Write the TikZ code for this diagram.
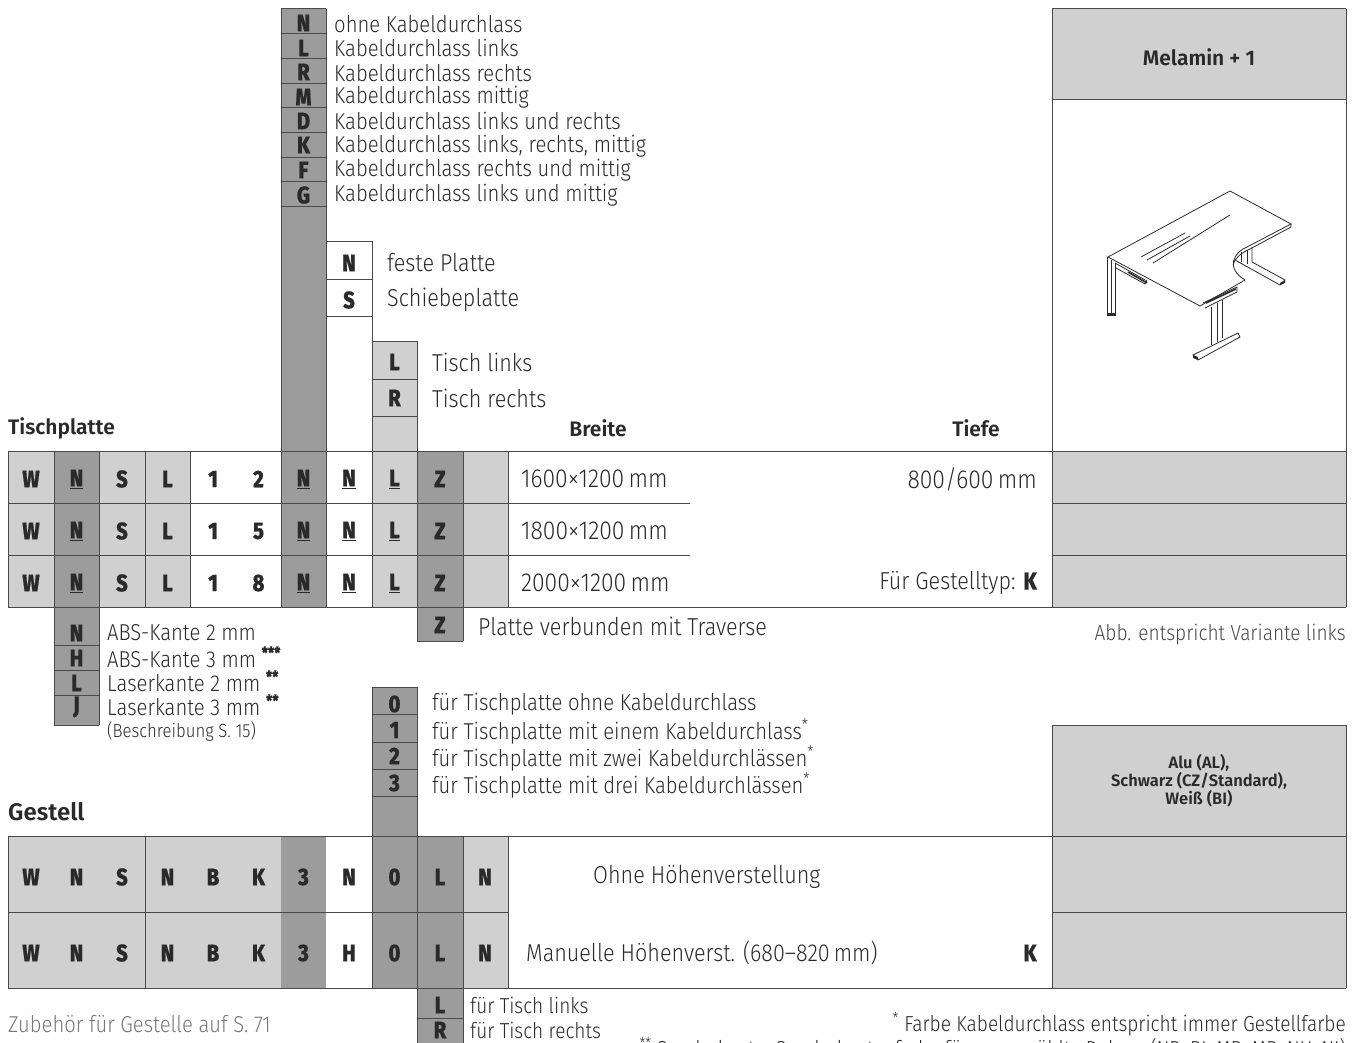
\documentclass[tikz,border=0pt]{standalone}
\usepackage{fontspec}
\setmainfont[FakeStretch=0.88]{Fira Sans Light}
\newfontfamily\codefont[FakeStretch=0.84, FakeBold=0.6]{Fira Sans ExtraBold}
\newfontfamily\headfont{Fira Sans SemiBold}
\definecolor{lightcell}{HTML}{D0D0D0}
\definecolor{darkcell}{HTML}{9C9C9C}
\definecolor{rulecolor}{HTML}{4A4A4A}
\definecolor{textcolor}{HTML}{2A2A2A}
\definecolor{greytext}{HTML}{777777}
\tikzset{
    cell/.style={minimum width=45.5pt, inner sep=0pt, font=\codefont\fontsize{24}{24}\selectfont, text=textcolor},
    line/.style={anchor=west, inner sep=0pt, font=\fontsize{23}{23}\selectfont, text=textcolor},
    bigline/.style={anchor=west, inner sep=0pt, font=\fontsize{24.5}{24.5}\selectfont, text=textcolor},
    sizeline/.style={anchor=west, inner sep=0pt, font=\fontsize{26}{26}\selectfont, text=textcolor},
    note/.style={anchor=west, inner sep=0pt, font=\fontsize{21.7}{21.7}\selectfont, text=textcolor},
    head/.style={anchor=west, inner sep=0pt, font=\headfont\fontsize{21}{21}\selectfont, text=textcolor},
    rule/.style={rulecolor, line width=1pt},
    desk/.style={textcolor, line width=0.8pt}
}
\begin{document}
\begin{tikzpicture}[x=1pt, y=-1pt]
    \useasboundingbox (0, 0) rectangle (1357, 1043);

    % Fill the shaded blocks of the upper table
    \fill[lightcell] (8, 451) rectangle (54, 607);
    \fill[darkcell] (54, 451) rectangle (99, 725);
    \fill[lightcell] (99, 451) rectangle (190, 607);
    \fill[darkcell] (281, 9) rectangle (326, 607);
    \fill[lightcell] (372, 341) rectangle (417, 607);
    \fill[darkcell] (417, 451) rectangle (463, 641);
    \fill[lightcell] (463, 451) rectangle (508, 607);
    \fill[lightcell] (1052, 9) rectangle (1346, 100);
    \fill[lightcell] (1052, 451) rectangle (1346, 607);

    % Fill the shaded blocks of the lower table
    \fill[lightcell] (8, 836) rectangle (281, 988);
    \fill[darkcell] (281, 836) rectangle (326, 988);
    \fill[darkcell] (372, 687) rectangle (417, 988);
    \fill[darkcell] (417, 836) rectangle (463, 1043);
    \fill[lightcell] (463, 836) rectangle (508, 988);
    \fill[lightcell] (1052, 725) rectangle (1346, 988);

    % Draw the horizontal rules of the upper table
    \draw[rule] (8, 451) -- (1346, 451);
    \draw[rule] (8, 503) -- (690, 503);
    \draw[rule] (8, 555) -- (690, 555);
    \draw[rule] (8, 607) -- (1346, 607);
    \draw[rule] (1052, 503) -- (1346, 503);
    \draw[rule] (1052, 555) -- (1346, 555);

    % Draw the vertical rules of the upper table
    \draw[rule] (8, 451) -- (8, 607);
    \draw[rule] (54, 451) -- (54, 725);
    \draw[rule] (99, 451) -- (99, 725);
    \draw[rule] (145, 451) -- (145, 607);
    \draw[rule] (190, 451) -- (190, 607);
    \draw[rule] (281, 9) -- (281, 607);
    \draw[rule] (326, 9) -- (326, 607);
    \draw[rule] (372, 241) -- (372, 607);
    \draw[rule] (417, 341) -- (417, 641);
    \draw[rule] (463, 451) -- (463, 641);
    \draw[rule] (508, 451) -- (508, 607);
    \draw[rule] (1052, 9) -- (1052, 607);
    \draw[rule] (1346, 9) -- (1346, 607);

    % Draw the ticks of the option columns
    \draw[rule] (281, 9) -- (326, 9);
    \draw[rule] (281, 34) -- (326, 34);
    \draw[rule] (281, 59) -- (326, 59);
    \draw[rule] (281, 84) -- (326, 84);
    \draw[rule] (281, 108) -- (326, 108);
    \draw[rule] (281, 133) -- (326, 133);
    \draw[rule] (281, 158) -- (326, 158);
    \draw[rule] (281, 182) -- (326, 182);
    \draw[rule] (281, 207) -- (326, 207);
    \draw[rule] (326, 241) -- (372, 241);
    \draw[rule] (326, 279) -- (372, 279);
    \draw[rule] (326, 316) -- (372, 316);
    \draw[rule] (372, 341) -- (417, 341);
    \draw[rule] (372, 379) -- (417, 379);
    \draw[rule] (372, 416) -- (417, 416);
    \draw[rule] (54, 645) -- (99, 645);
    \draw[rule] (54, 670) -- (99, 670);
    \draw[rule] (54, 695) -- (99, 695);
    \draw[rule] (54, 725) -- (99, 725);
    \draw[rule] (417, 641) -- (463, 641);
    \draw[rule] (1052, 9) -- (1346, 9);
    \draw[rule] (1052, 100) -- (1346, 100);

    % Draw the rules of the lower table
    \draw[rule] (8, 836) -- (1346, 836);
    \draw[rule] (8, 912) -- (508, 912);
    \draw[rule] (1052, 912) -- (1346, 912);
    \draw[rule] (8, 988) -- (1346, 988);
    \draw[rule] (8, 836) -- (8, 988);
    \draw[rule] (145, 836) -- (145, 988);
    \draw[rule] (372, 687) -- (372, 988);
    \draw[rule] (417, 687) -- (417, 1043);
    \draw[rule] (463, 836) -- (463, 1043);
    \draw[rule] (508, 836) -- (508, 988);
    \draw[rule] (1052, 725) -- (1052, 988);
    \draw[rule] (1346, 725) -- (1346, 988);
    \draw[rule] (372, 687) -- (417, 687);
    \draw[rule] (372, 714) -- (417, 714);
    \draw[rule] (372, 742) -- (417, 742);
    \draw[rule] (372, 769) -- (417, 769);
    \draw[rule] (372, 796) -- (417, 796);
    \draw[rule] (417, 1018) -- (463, 1018);
    \draw[rule] (1052, 725) -- (1346, 725);

    % Option column above the upper table
    \node[cell] (cableN) at (303.5, 23) {N};
    \node[cell] (cableL) at (303.5, 48) {L};
    \node[cell] (cableR) at (303.5, 72) {R};
    \node[cell] (cableM) at (303.5, 97) {M};
    \node[cell] (cableD) at (303.5, 121) {D};
    \node[cell] (cableK) at (303.5, 145) {K};
    \node[cell] (cableF) at (303.5, 170) {F};
    \node[cell] (cableG) at (303.5, 195) {G};
    \node[line] (cableNtext) at (334, 24) {ohne Kabeldurchlass};
    \node[line] (cableLtext) at (334, 48) {Kabeldurchlass links};
    \node[line] (cableRtext) at (334, 73) {Kabeldurchlass rechts};
    \node[line] (cableMtext) at (334, 97) {Kabeldurchlass mittig};
    \node[line] (cableDtext) at (334, 121) {Kabeldurchlass links und rechts};
    \node[line] (cableKtext) at (334, 146) {Kabeldurchlass links, rechts, mittig};
    \node[line] (cableFtext) at (334, 170) {Kabeldurchlass rechts und mittig};
    \node[line] (cableGtext) at (334, 195) {Kabeldurchlass links und mittig};

    \node[cell] (plateN) at (349, 263) {N};
    \node[cell] (plateS) at (349, 300) {S};
    \node[bigline] (plateNtext) at (387, 263) {feste Platte};
    \node[bigline] (plateStext) at (387, 300) {Schiebeplatte};

    \node[cell] (sideL) at (394.5, 362) {L};
    \node[cell] (sideR) at (394.5, 398) {R};
    \node[bigline] (sideLtext) at (432, 362) {Tisch links};
    \node[bigline] (sideRtext) at (432, 398) {Tisch rechts};

    % Headings of the upper table
    \node[head] (tischplatte) at (8, 428) {Tischplatte};
    \node[head, anchor=center] (breite) at (598, 428) {Breite};
    \node[head, anchor=center] (tiefe) at (976, 428) {Tiefe};
    \node[head, anchor=center] (melamin) at (1199, 57) {Melamin + 1};

    % First row of the upper table
    \node[cell] (a1) at (31, 479) {W};
    \node[cell] (a2) at (76.5, 479) {\underline{N}};
    \node[cell] (a3) at (122, 479) {S};
    \node[cell] (a4) at (167.5, 479) {L};
    \node[cell] (a5) at (213, 479) {1};
    \node[cell] (a6) at (258.5, 479) {2};
    \node[cell] (a7) at (303.5, 479) {\underline{N}};
    \node[cell] (a8) at (349, 479) {\underline{N}};
    \node[cell] (a9) at (394.5, 479) {\underline{L}};
    \node[cell] (a10) at (440, 479) {Z};
    \node[sizeline] (a11) at (521, 479) {1600×1200\,mm};
    \node[sizeline, anchor=east] (a12) at (1037, 479) {800/600\,mm};

    % Second row of the upper table
    \node[cell] (b1) at (31, 531) {W};
    \node[cell] (b2) at (76.5, 531) {\underline{N}};
    \node[cell] (b3) at (122, 531) {S};
    \node[cell] (b4) at (167.5, 531) {L};
    \node[cell] (b5) at (213, 531) {1};
    \node[cell] (b6) at (258.5, 531) {5};
    \node[cell] (b7) at (303.5, 531) {\underline{N}};
    \node[cell] (b8) at (349, 531) {\underline{N}};
    \node[cell] (b9) at (394.5, 531) {\underline{L}};
    \node[cell] (b10) at (440, 531) {Z};
    \node[sizeline] (b11) at (521, 531) {1800×1200\,mm};

    % Third row of the upper table
    \node[cell] (c1) at (31, 583) {W};
    \node[cell] (c2) at (76.5, 583) {\underline{N}};
    \node[cell] (c3) at (122, 583) {S};
    \node[cell] (c4) at (167.5, 583) {L};
    \node[cell] (c5) at (213, 583) {1};
    \node[cell] (c6) at (258.5, 583) {8};
    \node[cell] (c7) at (303.5, 583) {\underline{N}};
    \node[cell] (c8) at (349, 583) {\underline{N}};
    \node[cell] (c9) at (394.5, 583) {\underline{L}};
    \node[cell] (c10) at (440, 583) {Z};
    \node[sizeline] (c11) at (521, 583) {2000×1200\,mm};
    \node[bigline, anchor=east] (c12) at (1037, 583) {Für Gestelltyp: {\codefont K}};

    % Options below the upper table
    \node[cell] (edgeN) at (76.5, 633) {N};
    \node[cell] (edgeH) at (76.5, 658) {H};
    \node[cell] (edgeL) at (76.5, 683) {L};
    \node[cell] (edgeJ) at (76.5, 707) {J};
    \node[line] (edgeNtext) at (107, 633) {ABS-Kante 2 mm};
    \node[line] (edgeHtext) at (107, 657) {ABS-Kante 3 mm \textsuperscript{\codefont ***}};
    \node[line] (edgeLtext) at (107, 681) {Laserkante 2 mm \textsuperscript{\codefont **}};
    \node[line] (edgeJtext) at (107, 705) {Laserkante 3 mm \textsuperscript{\codefont **}};
    \node[note, font=\fontsize{19}{19}\selectfont] (edgeNote) at (107, 731) {(Beschreibung S. 15)};

    \node[cell] (traverseZ) at (440, 625) {Z};
    \node[bigline] (traverseText) at (478, 626) {Platte verbunden mit Traverse};
    \node[note, anchor=east, text=rulecolor] (figNote) at (1346, 635) {Abb. entspricht Variante links};

    % Options above the lower table
    \node[cell] (mountZero) at (394.5, 704) {0};
    \node[cell] (mountOne) at (394.5, 730) {1};
    \node[cell] (mountTwo) at (394.5, 756) {2};
    \node[cell] (mountThree) at (394.5, 783) {3};
    \node[line] (mountZerotext) at (432, 704) {für Tischplatte ohne Kabeldurchlass};
    \node[line] (mountOnetext) at (432, 731) {für Tischplatte mit einem Kabeldurchlass\textsuperscript{*}};
    \node[line] (mountTwotext) at (432, 758) {für Tischplatte mit zwei Kabeldurchlässen\textsuperscript{*}};
    \node[line] (mountThreetext) at (432, 785) {für Tischplatte mit drei Kabeldurchlässen\textsuperscript{*}};

    % Headings of the lower table
    \node[head, font=\headfont\fontsize{24}{24}\selectfont] (gestell) at (8, 812) {Gestell};
    \node[head, anchor=center, align=center, font=\headfont\fontsize{16.5}{18}\selectfont] (colours) at (1199, 781) {Alu (AL),\\Schwarz (CZ/Standard),\\Weiß (BI)};

    % First row of the lower table
    \node[cell] (d1) at (31, 877) {W};
    \node[cell] (d2) at (76.5, 877) {N};
    \node[cell] (d3) at (122, 877) {S};
    \node[cell] (d4) at (167.5, 877) {N};
    \node[cell] (d5) at (213, 877) {B};
    \node[cell] (d6) at (258.5, 877) {K};
    \node[cell] (d7) at (303.5, 877) {3};
    \node[cell] (d8) at (349, 877) {N};
    \node[cell] (d9) at (394.5, 877) {0};
    \node[cell] (d10) at (440, 877) {L};
    \node[cell] (d11) at (485, 877) {N};
    \node[bigline] (d12) at (593, 877) {Ohne Höhenverstellung};

    % Second row of the lower table
    \node[cell] (e1) at (31, 953) {W};
    \node[cell] (e2) at (76.5, 953) {N};
    \node[cell] (e3) at (122, 953) {S};
    \node[cell] (e4) at (167.5, 953) {N};
    \node[cell] (e5) at (213, 953) {B};
    \node[cell] (e6) at (258.5, 953) {K};
    \node[cell] (e7) at (303.5, 953) {3};
    \node[cell] (e8) at (349, 953) {H};
    \node[cell] (e9) at (394.5, 953) {0};
    \node[cell] (e10) at (440, 953) {L};
    \node[cell] (e11) at (485, 953) {N};
    \node[bigline] (e12) at (526, 953) {Manuelle Höhenverst. (680–820\,mm)};
    \node[cell] (e13) at (1030, 953) {K};

    % Options and notes below the lower table
    \node[cell] (frameL) at (440, 1005) {L};
    \node[cell] (frameR) at (440, 1030) {R};
    \node[note] (frameLtext) at (470, 1005) {für Tisch links};
    \node[note] (frameRtext) at (470, 1030) {für Tisch rechts};
    \node[line, text=greytext] (accessories) at (8, 1024) {Zubehör für Gestelle auf S. 71};
    \node[note, anchor=east] (noteOne) at (1346, 1024) {\textsuperscript{*} Farbe Kabeldurchlass entspricht immer Gestellfarbe};
    \node[note, anchor=east] (noteTwo) at (1346, 1049) {\textsuperscript{**} Sonderkante: Sonderkantenfarbe für ausgewählte Dekore (NB, BI, MB, MB, NU, NI)};

    % Draw the desk top
    \draw[desk] (1108, 257) -- (1230, 191) -- (1291, 224) -- (1247, 247) .. controls (1234, 252) and (1225, 268) .. (1245, 280) -- (1200, 306) -- cycle;
    \draw[desk] (1291, 224) -- (1291, 227) -- (1250, 249) .. controls (1240, 253) and (1234, 260) .. (1233, 265);
    \draw[desk] (1141, 257) -- (1185, 233);
    \draw[desk] (1147, 260) -- (1190, 236);
    \draw[desk] (1153, 263) -- (1230, 215);

    % Draw the left leg
    \draw[desk] (1107, 257) -- (1107, 315) -- (1115, 315) -- (1115, 263);
    \draw[desk] (1111, 260) -- (1111, 315);
    \fill[textcolor] (1107, 313) rectangle (1115, 316);

    % Draw the front leg and its foot
    \draw[desk] (1211, 307) -- (1211, 345);
    \draw[desk] (1217, 303) -- (1217, 342);
    \draw[desk] (1222, 300) -- (1222, 338);
    \draw[desk] (1193, 355) -- (1238, 333) -- (1240, 337) -- (1198, 360) -- cycle;
    \fill[textcolor] (1193, 355) -- (1198, 357) -- (1198, 360) -- (1193, 358) -- cycle;

    % Draw the back leg and its foot
    \draw[desk] (1241, 252) -- (1241, 262);
    \draw[desk] (1247, 250) -- (1247, 264);
    \draw[desk] (1252, 247) -- (1252, 262) -- (1285, 280) -- (1280, 285) -- (1235, 260);
    \fill[textcolor] (1285, 280) -- (1280, 283) -- (1280, 285) -- (1285, 283) -- cycle;

    % Draw the cable trays
    \draw[desk] (1115, 263) -- (1147, 281) -- (1145, 284) -- (1116, 268);
    \draw[desk, line width=1.6pt] (1128, 272) -- (1147, 283);
    \draw[desk] (1203, 303) -- (1237, 287) -- (1237, 292) -- (1205, 308);
    \draw[desk, line width=1.6pt] (1206, 303) -- (1236, 289);
\end{tikzpicture}
\end{document}
